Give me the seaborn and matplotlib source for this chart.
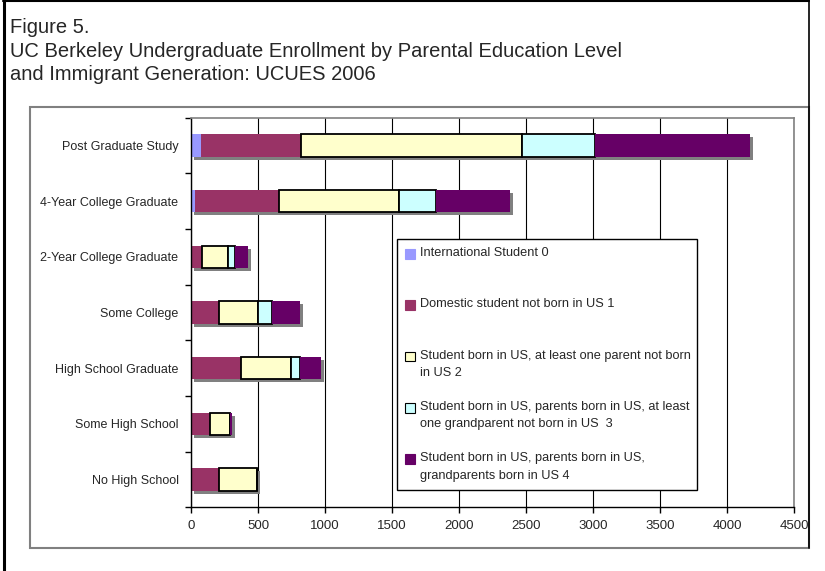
import numpy as np
import matplotlib.pyplot as plt
import matplotlib.patches as mpatches
import matplotlib.patheffects as pe
from matplotlib.legend_handler import HandlerPatch
from matplotlib.lines import Line2D
import seaborn as sns

# Datos (ancho de cada tramo de la barra apilada)
categorias = ["Post Graduate Study", "4-Year College Graduate", "2-Year College Graduate",
              "Some College", "High School Graduate", "Some High School", "No High School"]
internacional = [77, 32, 0, 0, 0, 0, 0]
domestico = [745, 625, 85, 212, 376, 140, 212]
gen2 = [1646, 893, 194, 291, 373, 149, 281]
gen3 = [547, 278, 52, 104, 67, 4, 0]
gen4 = [1156, 550, 97, 209, 157, 16, 0]

nombres = ["International Student 0\n ",
           "Domestic student not born in US 1\n ",
           "Student born in US, at least one parent not born\nin US 2",
           "Student born in US, parents born in US, at least\none grandparent not born in US  3",
           "Student born in US, parents born in US,\ngrandparents born in US 4"]
colores = ["#9999FF", "#993366", "#FFFFCC", "#CCFFFF", "#660066"]
bordes = ["none", "none", "black", "black", "none"]

series = [internacional, domestico, gen2, gen3, gen4]

sns.set_style("white")
plt.rcParams['font.family'] = ['Liberation Sans', 'DejaVu Sans']

fig = plt.figure(figsize=(8.25, 5.71), dpi=100)
W, H = 825, 571
ax = fig.add_axes([191 / W, 1 - 507.3 / H, (794 - 191) / W, (507.3 - 117.7) / H])

sombra = [pe.SimplePatchShadow(offset=(2.2, -2.2), shadow_rgbFace="#808080", alpha=1), pe.Normal()]

izquierda = np.zeros(len(categorias))
for vals, col, borde in zip(series, colores, bordes):
    sns.barplot(x=vals, y=categorias, left=izquierda.copy(), color=col, saturation=1,
                width=0.4, errorbar=None, orient="h", edgecolor=borde,
                linewidth=1.3 if borde != "none" else 0, path_effects=sombra, ax=ax)
    izquierda = izquierda + np.array(vals)

ax.set_xlim(0, 4500)
ax.set_xticks(range(0, 4501, 500))
ax.set_ylim(6.5, -0.5)
ax.set_yticks(np.arange(-0.5, 7, 1), minor=True)
ax.tick_params(axis="y", which="major", length=0, pad=9, labelsize=9, left=False)
ax.tick_params(axis="y", which="minor", length=4, width=1, color="black", direction="out", left=True)
ax.tick_params(axis="x", length=4, width=1, color="black", direction="out", pad=5,
               labelsize=9.5, bottom=True)
ax.xaxis.grid(True, color="black", linewidth=0.8)
ax.yaxis.grid(False)
ax.set_axisbelow(True)
ax.set_xlabel("")
ax.set_ylabel("")
for s in ["left", "bottom"]:
    ax.spines[s].set_color("black")
    ax.spines[s].set_linewidth(1.0)
for s in ["top", "right"]:
    ax.spines[s].set_color("#808080")
    ax.spines[s].set_linewidth(1.2)


def cuadro(legend, orig_handle, xdescent, ydescent, width, height, fontsize):
    return mpatches.Rectangle((-xdescent, -ydescent + 0.62 * fontsize), width, height)


handles = [mpatches.Patch(facecolor=c, edgecolor=(b if b != "none" else c), linewidth=0.8)
           for c, b in zip(colores, bordes)]
leg = ax.legend(handles, nombres, loc="upper left", bbox_to_anchor=(0.3416, 0.0444, 0.497, 0.6446),
                mode="expand", borderaxespad=0, fontsize=9.2, frameon=True, fancybox=False,
                edgecolor="black", framealpha=1, handlelength=0.78, handleheight=0.78,
                handletextpad=0.39, borderpad=0.63, labelspacing=1.72,
                handler_map={mpatches.Patch: HandlerPatch(patch_func=cuadro)})
leg.get_frame().set_linewidth(1.0)
for t in leg.get_texts():
    t.set_linespacing(1.6)

# Titulos
fig.text(10 / W, 1 - 33.3 / H, "Figure 5.", fontsize=14.5, va="baseline")
fig.text(10 / W, 1 - 56.7 / H, "UC Berkeley Undergraduate Enrollment by Parental Education Level",
         fontsize=14.5, va="baseline")
fig.text(10 / W, 1 - 80 / H, "and Immigrant Generation: UCUES 2006", fontsize=14.5, va="baseline")

# Marco del grafico y borde exterior
fig.add_artist(mpatches.Rectangle((30 / W, 1 - 548 / H), (809 - 30) / W, (548 - 107) / H,
                                  transform=fig.transFigure, facecolor="none",
                                  edgecolor="#808080", linewidth=1.5))
fig.add_artist(Line2D([4 / W, 4 / W], [0, 1], transform=fig.transFigure, color="black", linewidth=2.2))
fig.add_artist(Line2D([3 / W, 809 / W], [1 - 1 / H, 1 - 1 / H], transform=fig.transFigure,
                      color="black", linewidth=1.5))
fig.add_artist(Line2D([809 / W, 809 / W], [1, 1 - 548 / H], transform=fig.transFigure,
                      color="black", linewidth=1.2))

fig.savefig("out.png", dpi=100)
